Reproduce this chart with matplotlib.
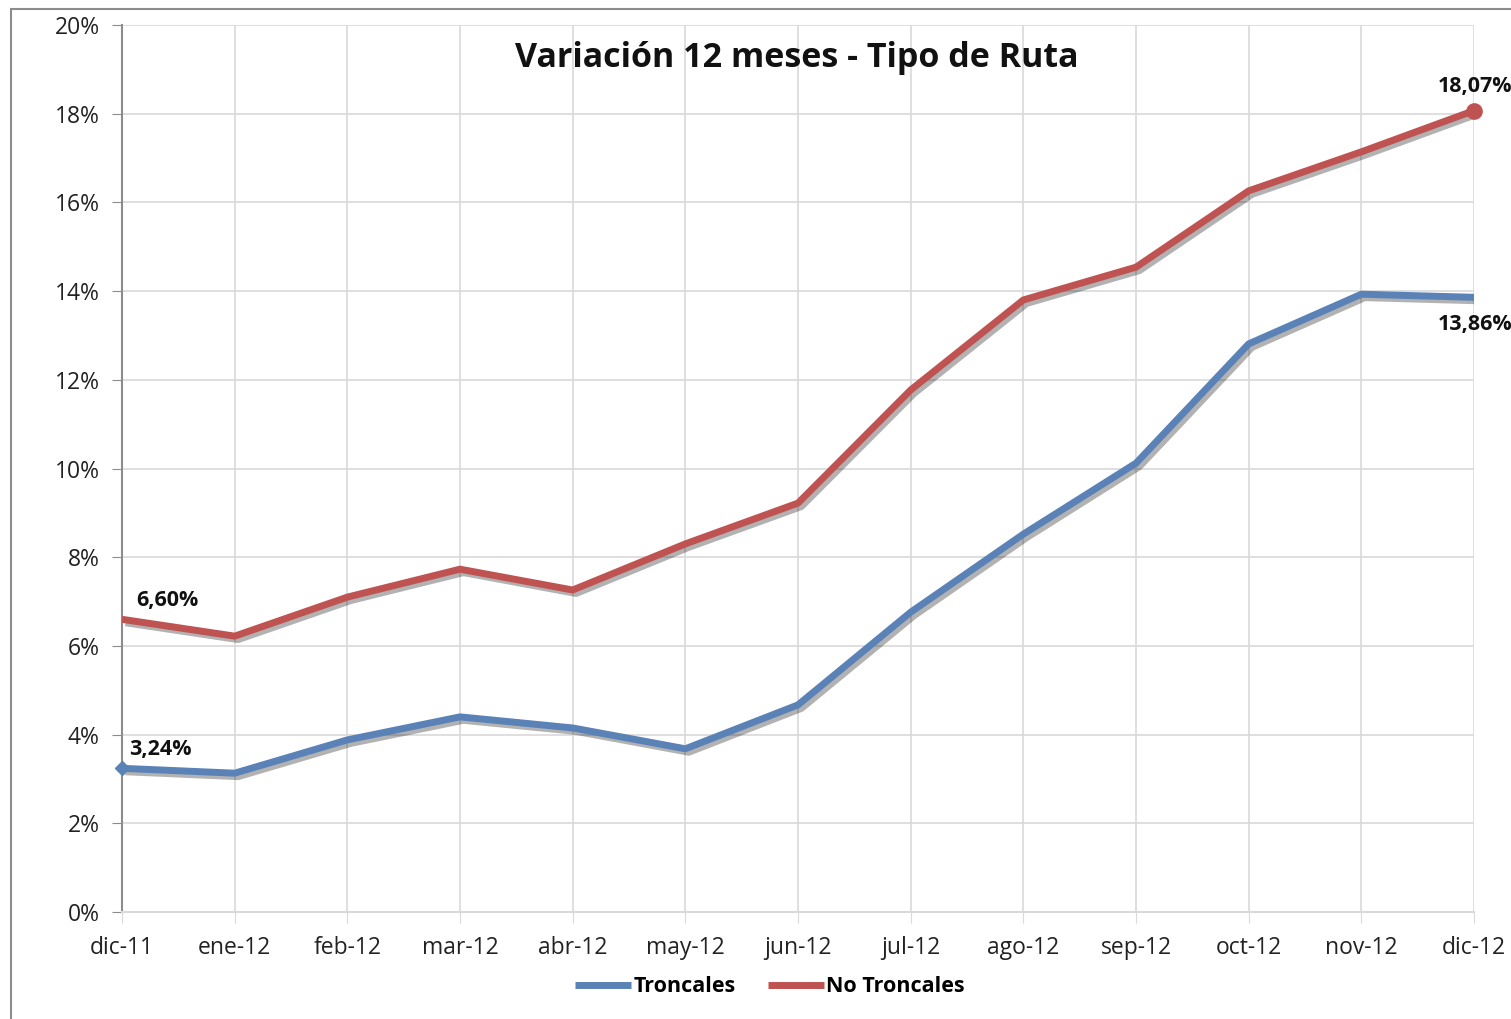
import matplotlib
matplotlib.use("Agg")
import matplotlib.pyplot as plt
import matplotlib.patheffects as pe
from matplotlib.patches import Rectangle
from matplotlib.ticker import FuncFormatter, MultipleLocator

categories = ["dic-11", "ene-12", "feb-12", "mar-12", "abr-12", "may-12", "jun-12",
              "jul-12", "ago-12", "sep-12", "oct-12", "nov-12", "dic-12"]
troncales = [3.24, 3.13, 3.88, 4.40, 4.15, 3.68, 4.67, 6.76, 8.52, 10.12, 12.81, 13.93, 13.86]
no_troncales = [6.60, 6.22, 7.10, 7.73, 7.26, 8.30, 9.22, 11.77, 13.80, 14.54, 16.26, 17.14, 18.07]

plt.rcParams['font.family'] = ['Open Sans', 'DejaVu Sans']

fig = plt.figure(figsize=(15.11, 10.19), dpi=100)
fig.patches.append(Rectangle((11/1511, -0.2), 1.2, 0.2 + 1 - 9/1019,
                             transform=fig.transFigure, fill=False,
                             edgecolor="#8c8c8c", linewidth=1.5, zorder=0))
ax = fig.add_axes([122/1511, 1-912/1019, (1474-122)/1511, (912-25)/1019])

x = list(range(len(categories)))
blue = "#5A82B7"
red = "#BE5351"
shadow = [pe.SimpleLineShadow(offset=(2.5, -2.5), shadow_color="black", alpha=0.3), pe.Normal()]
ax.plot(x, troncales, color=blue, lw=5, solid_capstyle="butt", solid_joinstyle="round",
        path_effects=shadow, label="Troncales", zorder=3)
ax.plot(x, no_troncales, color=red, lw=5, solid_capstyle="butt", solid_joinstyle="round",
        path_effects=shadow, label="No Troncales", zorder=3)
ax.plot([x[0]], [troncales[0]], marker="D", ms=7, color=blue, zorder=4, clip_on=False)
ax.plot([x[-1]], [no_troncales[-1]], marker="o", ms=11, color=red, zorder=4, clip_on=False)

ax.set_xlim(0, len(categories) - 1)
ax.set_ylim(0, 20)
ax.yaxis.set_major_locator(MultipleLocator(2))
ax.yaxis.set_major_formatter(FuncFormatter(lambda v, p: f"{v:.0f}%"))
ax.set_xticks(x)
ax.set_xticklabels(categories)
ax.grid(True, color="#d9d9d9", lw=1.2)
ax.set_axisbelow(True)
for s in ["top", "right"]:
    ax.spines[s].set_visible(False)
for s in ["left", "bottom"]:
    ax.spines[s].set_color("#8c8c8c")
    ax.spines[s].set_linewidth(1.5)
ax.spines["bottom"].set_color("#d9d9d9")
ax.tick_params(axis="y", length=7, color="#8c8c8c", labelsize=16.5, pad=9, labelcolor="#222222")
ax.tick_params(axis="x", length=8, color="#d9d9d9", labelsize=16.5, pad=9, labelcolor="#222222")

def fmt(v):
    return f"{v:.2f}%".replace(".", ",")

lbl = dict(fontsize=15.5, fontweight="bold", color="#111111", clip_on=False)
ax.annotate(fmt(no_troncales[-1]), (x[-1], no_troncales[-1]), xytext=(-26, 10),
            textcoords="offset points", ha="left", va="bottom", **lbl)
ax.annotate(fmt(troncales[-1]), (x[-1], troncales[-1]), xytext=(-26, -12),
            textcoords="offset points", ha="left", va="top", **lbl)
ax.annotate(fmt(no_troncales[0]), (x[0], no_troncales[0]), xytext=(10, 6),
            textcoords="offset points", ha="left", va="bottom", **lbl)
ax.annotate(fmt(troncales[0]), (x[0], troncales[0]), xytext=(5, 6),
            textcoords="offset points", ha="left", va="bottom", **lbl)

fig.text(797/1511, 1-58/1019, "Variación 12 meses - Tipo de Ruta", ha="center", va="center",
         fontsize=24.5, fontweight="bold", color="#111111")

leg = ax.legend(loc="center", bbox_to_anchor=(770/1511, 1-987/1019), bbox_transform=fig.transFigure,
                ncol=2, frameon=False, fontsize=15.5, handlelength=2.6, handletextpad=0.1,
                columnspacing=1.5)
for t in leg.get_texts():
    t.set_fontweight("bold")
for h in leg.get_lines():
    h.set_path_effects([])

fig.savefig("out.png", dpi=100)
